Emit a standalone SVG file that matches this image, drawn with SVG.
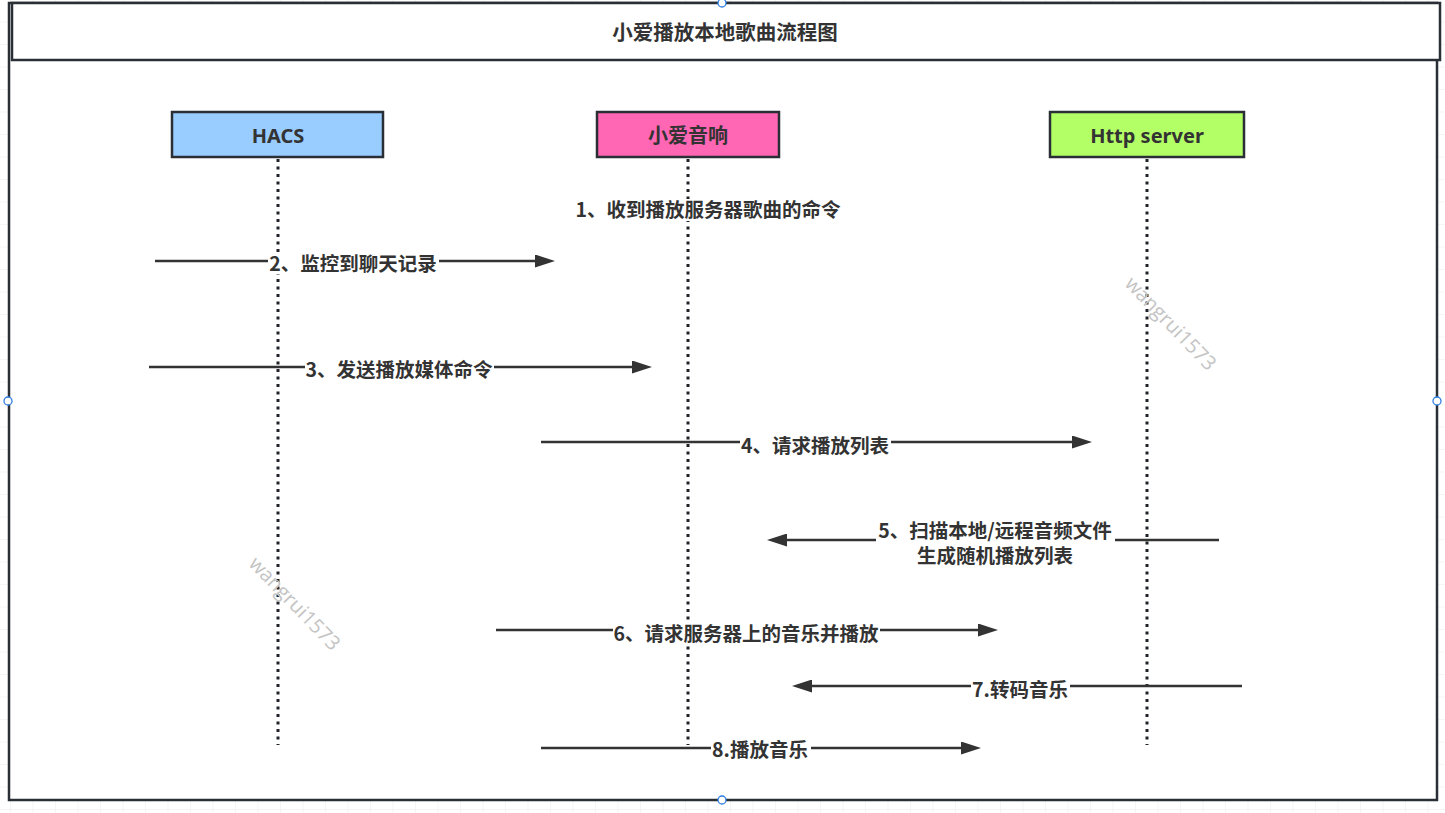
<svg xmlns="http://www.w3.org/2000/svg" width="1445" height="813" viewBox="0 0 1445 813">
  <defs>
    <pattern id="grid" width="22.5" height="22.5" patternUnits="userSpaceOnUse" x="11" y="0">
      <path d="M22.5 0 V22.5 M0 22.5 H22.5" fill="none" stroke="#ececec" stroke-width="1"/>
    </pattern>
    <marker id="arr" viewBox="0 0 20 13" markerWidth="20" markerHeight="13" refX="8" refY="6.5" orient="auto" markerUnits="userSpaceOnUse">
      <path d="M0 0 L20 6.5 L0 13 Z" fill="#333333"/>
    </marker>
    <style>
      .frame { fill: #ffffff; stroke: #2a2f35; stroke-width: 2.5; }
      .actor { stroke: #2a2f35; stroke-width: 2.5; }
      .actor-text { font-family: "Noto Sans", "Open Sans", "Noto Sans CJK SC", sans-serif; font-weight: bold; font-size: 20px; fill: #333333; text-anchor: middle; }
      .life { stroke: #1f2328; stroke-width: 3; stroke-dasharray: 3 4.5; fill: none; }
      .msg { stroke: #333333; stroke-width: 2.5; fill: none; marker-end: url(#arr); }
      .lbl { font-family: "Noto Sans CJK SC", "Noto Sans", sans-serif; font-weight: bold; font-size: 19.5px; fill: #333333; text-anchor: middle; }
      .bg { fill: #ffffff; }
      .wm { font-family: "Open Sans", "Noto Sans", sans-serif; font-size: 20px; fill: #c4c4c4; text-anchor: middle; }
      .handle { fill: #ffffff; stroke: #2f7de1; stroke-width: 1.3; }
    </style>
  </defs>

  <rect x="0" y="0" width="1445" height="813" fill="#ffffff"/>
  <rect x="0" y="0" width="1445" height="813" fill="url(#grid)"/>

  <g id="frame">
    <rect class="frame" x="9" y="3" width="1428" height="797"/>
    <rect class="frame" x="12" y="3" width="1428" height="57"/>
    <text x="725" y="40" class="lbl" style="font-size:20.5px">小爱播放本地歌曲流程图</text>
  </g>

  <g id="lifelines">
    <line class="life" x1="278" y1="159" x2="278" y2="745"/>
    <line class="life" x1="688" y1="159" x2="688" y2="745"/>
    <line class="life" x1="1147" y1="159" x2="1147" y2="745"/>
  </g>

  <g id="node-hacs">
    <rect class="actor" x="172" y="112" width="211" height="45" fill="#99ccff"/>
    <text class="actor-text" x="278" y="143">HACS</text>
  </g>
  <g id="node-xiaoai">
    <rect class="actor" x="597" y="112" width="182" height="45" fill="#ff66b3"/>
    <text class="actor-text" x="688" y="143" style="font-family:'Noto Sans CJK SC', sans-serif">小爱音响</text>
  </g>
  <g id="node-http">
    <rect class="actor" x="1050" y="112" width="194" height="45" fill="#b3ff66"/>
    <text class="actor-text" x="1147" y="143">Http server</text>
  </g>

  <g id="note-1">
    <rect class="bg" x="576" y="199" width="266" height="22"/>
    <text class="lbl" x="708" y="217">1、收到播放服务器歌曲的命令</text>
  </g>

  <g id="connectors">
    <line class="msg" x1="155" y1="261" x2="543" y2="261"/>
    <rect class="bg" x="268" y="252" width="171" height="22"/>
    <text class="lbl" x="353" y="271">2、监控到聊天记录</text>

    <line class="msg" x1="149" y1="367" x2="640" y2="367"/>
    <rect class="bg" x="305" y="358" width="189" height="22"/>
    <text class="lbl" x="399" y="377">3、发送播放媒体命令</text>

    <line class="msg" x1="541" y1="442" x2="1080" y2="442"/>
    <rect class="bg" x="740" y="434" width="151" height="22"/>
    <text class="lbl" x="815" y="453">4、请求播放列表</text>

    <line class="msg" x1="1219" y1="540" x2="779" y2="540"/>
    <rect class="bg" x="876" y="521" width="239" height="21"/>
    <text class="lbl" x="995" y="538">5、扫描本地/远程音频文件<tspan x="995" dy="25">生成随机播放列表</tspan></text>

    <line class="msg" x1="496" y1="630" x2="986" y2="630"/>
    <rect class="bg" x="613" y="622" width="267" height="22"/>
    <text class="lbl" x="746" y="641">6、请求服务器上的音乐并播放</text>

    <line class="msg" x1="1242" y1="686" x2="804" y2="686"/>
    <rect class="bg" x="971" y="679" width="99" height="22"/>
    <text class="lbl" x="1020" y="697">7.转码音乐</text>

    <line class="msg" x1="541" y1="748" x2="969" y2="748"/>
    <rect class="bg" x="711" y="739" width="100" height="22"/>
    <text class="lbl" x="760" y="757">8.播放音乐</text>
  </g>

  <g id="watermarks">
    <text class="wm" x="1170" y="330" transform="rotate(46 1170 324)">wangrui1573</text>
    <text class="wm" x="294" y="610" transform="rotate(46 294 604)">wangrui1573</text>
  </g>

  <g id="handles">
    <circle class="handle" cx="722" cy="3" r="4"/>
    <circle class="handle" cx="8" cy="401" r="4"/>
    <circle class="handle" cx="1437" cy="401" r="4"/>
    <circle class="handle" cx="722" cy="800" r="4"/>
  </g>
</svg>
